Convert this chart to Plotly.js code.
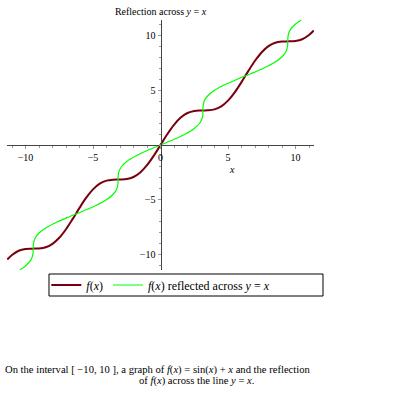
<!DOCTYPE html>
<html>
<head>
<meta charset="utf-8">
<script src="https://cdn.plot.ly/plotly-3.0.1.min.js"></script>
<style>html,body{margin:0;padding:0;background:#fff;}#chart{width:395px;height:395px;}</style>
</head>
<body>
<div id="chart"></div>
<script>
// f(x) curve, values
var xValues = [-11.35, -11, -10.5, -10, -9.5, -9, -8.5, -8, -7.5, -7, -6.5, -6, -5.5, -5, -4.5, -4, -3.5, -3, -2.5, -2, -1.5, -1, -0.5, 0,
               0.5, 1, 1.5, 2, 2.5, 3, 3.5, 4, 4.5, 5, 5.5, 6, 6.5, 7, 7.5, 8, 8.5, 9, 9.5, 10, 10.5, 11, 11.35];
var fValues = [-10.41, -10.00, -9.62, -9.46, -9.43, -9.41, -9.30, -8.99, -8.44, -7.66, -6.72, -5.72, -4.79, -4.04, -3.52, -3.24, -3.15, -3.14, -3.10, -2.91, -2.50, -1.84, -0.98, 0,
               0.98, 1.84, 2.50, 2.91, 3.10, 3.14, 3.15, 3.24, 3.52, 4.04, 4.79, 5.72, 6.72, 7.66, 8.44, 8.99, 9.30, 9.41, 9.43, 9.46, 9.62, 10.00, 10.41];
// reflected curve (swapped coordinates)
var reflectedX = fValues;
var reflectedY = xValues;

var xTickVals = [-10, -5, 0, 5, 10];
var xTickText = ["\u221210", "\u22125", "0", "5", "10"];
var yTickVals = [-10, -5, 5, 10];
var yTickText = ["\u221210", "\u22125", "5", "10"];

var serif = "Liberation Serif, Times New Roman, serif";

var traces = [
  {x: xValues, y: fValues, mode: "lines", line: {color: "#78000E", width: 2, shape: "spline"},
   name: "<i>f</i>(<i>x</i>)"},
  {x: reflectedX, y: reflectedY, mode: "lines", line: {color: "#00FF00", width: 1.2, shape: "spline"},
   name: "<i>f</i>(<i>x</i>) reflected across <i>y</i> = <i>x</i>"}
];

var axisCommon = {
  showgrid: false, zeroline: false, showline: true, linecolor: "#444", linewidth: 1,
  anchor: "free", position: 0.5,
  ticks: "outside", ticklen: 3, tickcolor: "#999", tickwidth: 1,
  minor: {dtick: 1, ticks: "outside", ticklen: 2, tickcolor: "#999"},
  tickfont: {family: serif, size: 10, color: "#000"},
  range: [-11.37, 11.37], fixedrange: true
};

var layout = {
  width: 395, height: 395,
  margin: {l: 7, r: 81, t: 20, b: 125},
  paper_bgcolor: "#fff", plot_bgcolor: "#fff",
  title: {text: "Reflection across <i>y</i> = <i>x</i>", x: 0.5, xref: "paper", xanchor: "center",
          y: 0.97, yref: "container", yanchor: "middle",
          font: {family: serif, size: 10, color: "#000"}},
  xaxis: Object.assign({}, axisCommon, {tickvals: xTickVals, ticktext: xTickText}),
  yaxis: Object.assign({}, axisCommon, {tickvals: yTickVals, ticktext: yTickText}),
  showlegend: true,
  legend: {orientation: "h", x: 0.128, xanchor: "left", y: -0.06, yanchor: "middle",
           bgcolor: "rgba(0,0,0,0)", borderwidth: 0, itemwidth: 30,
           font: {family: serif, size: 12, color: "#000"}},
  shapes: [
    {type: "rect", xref: "paper", yref: "paper", x0: 0.1368, x1: 1.0293, y0: -0.104, y1: -0.016,
     line: {color: "#000", width: 1}, fillcolor: "rgba(0,0,0,0)"}
  ],
  annotations: [
    {text: "<i>x</i>", xref: "paper", yref: "paper", x: 0.749, y: 0.404, showarrow: false,
     font: {family: serif, size: 10, color: "#000"}},
    {text: "On the interval [ \u221210, 10 ], a graph of <i>f</i>(<i>x</i>) = sin(<i>x</i>) + <i>x</i> and the reflection",
     xref: "paper", yref: "paper", x: -0.013, y: -0.4, xanchor: "left", yanchor: "middle", showarrow: false,
     font: {family: serif, size: 10.6, color: "#000"}},
    {text: "of <i>f</i>(<i>x</i>) across the line <i>y</i> = <i>x</i>.",
     xref: "paper", yref: "paper", x: 0.4235, y: -0.444, xanchor: "left", yanchor: "middle", showarrow: false,
     font: {family: serif, size: 10.6, color: "#000"}}
  ]
};

Plotly.newPlot("chart", traces, layout, {displayModeBar: false, staticPlot: true});
</script>
</body>
</html>
